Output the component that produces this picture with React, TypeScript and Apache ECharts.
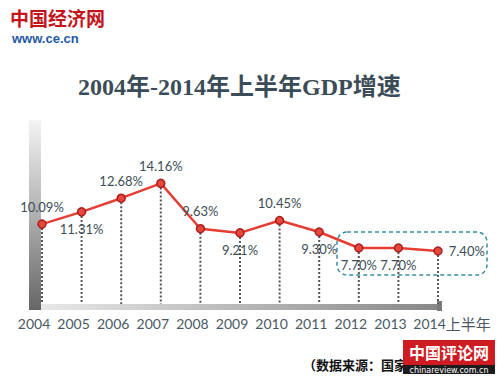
import React, { useEffect, useRef } from "react";
import * as echarts from "echarts";

const years = ["2004", "2005", "2006", "2007", "2008", "2009", "2010", "2011", "2012", "2013", "2014"];
const growth = [10.09, 11.31, 12.68, 14.16, 9.63, 9.21, 10.45, 9.3, 7.7, 7.7, 7.4];
const labelPlace = ["top", "bottom", "top", "top", "top", "bottom", "top", "bottom", "bottom", "bottom", "right"];
const lastSuffix = "上半年";
const titleText = "2004年-2014年上半年GDP增速";
const sourceText = "（数据来源：国家统计局）";

const Y_MIN = 1.8;
const Y_MAX = 20.5;

export default function App() {
  const ref = useRef<HTMLDivElement>(null);
  useEffect(() => {
    if (!ref.current) return;
    const chart = echarts.init(ref.current, null, { renderer: "svg" });
    const textColor = "#3d4d58";
    const last = years.length - 1;
    chart.setOption({
      animation: false,
      backgroundColor: "#ffffff",
      title: {
        text: titleText,
        left: 73,
        top: 70,
        textStyle: {
          fontFamily: '"Liberation Serif", "Noto Sans CJK SC", serif',
          fontWeight: "bold",
          fontSize: 24,
          color: "#3b4c58",
        },
      },
      grid: { left: 42, right: 62, top: 120, bottom: 73 },
      xAxis: {
        type: "category",
        data: years,
        boundaryGap: false,
        axisLine: { show: false },
        axisTick: { show: false },
        splitLine: { show: false },
        axisLabel: {
          interval: 0,
          margin: 9,
          padding: [0, 16, 0, 0],
          color: "#4a5865",
          fontFamily: 'Lato, "Noto Sans CJK SC", sans-serif',
          fontSize: 14,
          formatter: (val: string, idx: number) =>
            idx === last ? "{sp| }" + val + "{cn|" + lastSuffix + "}" : val,
          rich: {
            sp: { width: 44 },
            cn: {
              fontFamily: '"Noto Sans CJK SC", sans-serif',
              fontSize: 15,
              color: "#4a5865",
            },
          },
        },
      },
      yAxis: {
        type: "value",
        min: Y_MIN,
        max: Y_MAX,
        show: false,
        splitLine: { show: false },
      },
      graphic: [
        {
          type: "rect",
          z: 0,
          shape: { x: 29, y: 120, width: 12, height: 190 },
          style: {
            fill: new echarts.graphic.LinearGradient(0, 0, 0, 1, [
              { offset: 0, color: "#f3f3f3" },
              { offset: 0.5, color: "#b0b0b0" },
              { offset: 1, color: "#666666" },
            ]),
          },
        },
        {
          type: "rect",
          z: 0,
          shape: { x: 41, y: 304, width: 397, height: 6 },
          style: {
            fill: new echarts.graphic.LinearGradient(0, 0, 1, 0, [
              { offset: 0, color: "#e8e8e8" },
              { offset: 1, color: "#888888" },
            ]),
          },
        },
        {
          type: "rect",
          z: 0,
          shape: { x: 437, y: 301, width: 5, height: 10 },
          style: { fill: "#7a7a7a" },
        },
        {
          type: "rect",
          z: 1,
          shape: { x: 337, y: 232, width: 150, height: 43, r: 10 },
          style: { fill: "none", stroke: "#3a8ea5", lineWidth: 1.5, lineDash: [4, 3] },
        },
        {
          type: "text",
          z: 5,
          x: 10,
          y: 8,
          style: {
            text: "中国经济网",
            font: 'bold 19px "Noto Sans CJK SC"',
            fill: "#c4151c",
          },
        },
        {
          type: "text",
          z: 5,
          x: 12,
          y: 32,
          style: {
            text: "www.ce.cn",
            font: 'bold 13px "Liberation Sans"',
            fill: "#1f58a6",
            letterSpacing: 2.5,
          },
        },
        {
          type: "text",
          z: 5,
          x: 303,
          y: 358,
          style: {
            text: sourceText,
            font: 'bold 13px "Noto Sans CJK SC"',
            fill: "#111111",
          },
        },
        {
          type: "rect",
          z: 10,
          shape: { x: 403, y: 340, width: 92, height: 26 },
          style: { fill: "#cf1c22" },
        },
        {
          type: "rect",
          z: 10,
          shape: { x: 403, y: 365, width: 92, height: 9 },
          style: { fill: "#1c1c1c" },
        },
        {
          type: "text",
          z: 11,
          x: 449,
          y: 352,
          style: {
            text: "中国评论网",
            font: 'bold 16px "Noto Sans CJK SC"',
            fill: "#ffffff",
            align: "center",
            verticalAlign: "middle",
            letterSpacing: 1,
          },
        },
        {
          type: "text",
          z: 11,
          x: 449,
          y: 370,
          style: {
            text: "chinareview.com.cn",
            font: '8px "DejaVu Sans"',
            fill: "#ffffff",
            align: "center",
            verticalAlign: "middle",
          },
        },
      ],
      series: [
        {
          type: "custom",
          z: 1,
          silent: true,
          data: growth.map((v, i) => [i, v]),
          renderItem: (params: any, api: any) => {
            const p = api.coord([api.value(0), api.value(1)]);
            const b = api.coord([api.value(0), Y_MIN]);
            return {
              type: "line",
              shape: { x1: p[0], y1: p[1], x2: b[0], y2: b[1] - 3 },
              style: { stroke: "#555555", lineWidth: 2, lineDash: [2, 2] },
            };
          },
        },
        {
          type: "line",
          z: 3,
          data: growth.map((v, i) => ({
            value: v,
            label: { position: labelPlace[i] },
          })),
          symbol: "circle",
          symbolSize: 8,
          lineStyle: { color: "#e63e33", width: 2.5 },
          itemStyle: { color: "#e5473b", borderColor: "#a91f1f", borderWidth: 1.5 },
          label: {
            show: true,
            distance: 6,
            formatter: (p: any) => p.value.toFixed(2) + "%",
            color: textColor,
            fontFamily: "Lato, sans-serif",
            fontSize: 13,
          },
        },
      ],
    });
    return () => chart.dispose();
  }, []);
  return (
    <div
      ref={ref}
      style={{ position: "fixed", left: 0, top: 0, width: 500, height: 380, background: "#fff" }}
    />
  );
}
